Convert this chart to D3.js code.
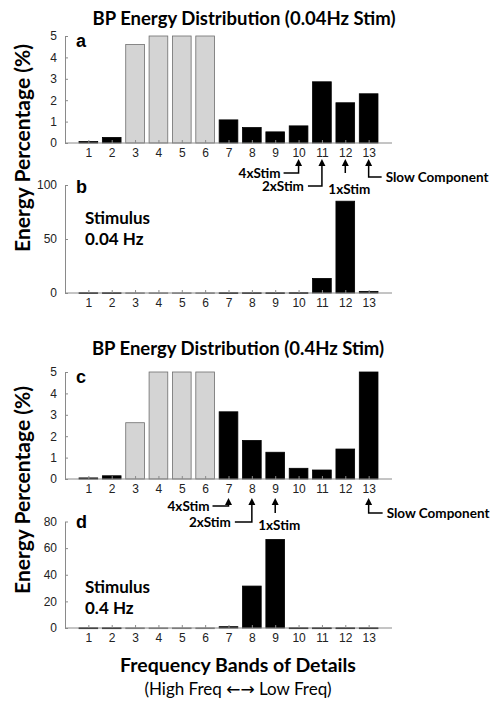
<!DOCTYPE html>
<html><head><meta charset="utf-8">
<script src="https://cdn.jsdelivr.net/npm/d3@7"></script>
<style>
body{margin:0;background:#fff;}
svg{display:block;}
.tick text{font-family:"Liberation Sans",Arial,sans-serif;}
</style></head>
<body>
<svg id="chart" width="502" height="707"></svg>
<script>
// ---------- data ----------
const bands = [1,2,3,4,5,6,7,8,9,10,11,12,13];
const grayBands = [3,4,5,6];
const energyA = [0.07,0.26,4.6,18,38,29,1.08,0.72,0.52,0.8,2.86,1.88,2.3];      // 0.04 Hz BP (clipped at 5)
const energyB = [0.2,0.2,0.2,0.2,0.2,0.2,0.2,0.2,0.2,0.3,13.5,85,1.5];           // 0.04 Hz stimulus
const energyC = [0.05,0.15,2.63,22,35,23,3.14,1.8,1.25,0.5,0.42,1.4,8];          // 0.4 Hz BP (clipped at 5)
const energyD = [0.1,0.1,0.1,0.1,0.1,0.1,1,31.5,66.5,0.1,0.1,0.1,0.1];           // 0.4 Hz stimulus
const ticksA = [0,1,2,3,4,5];
const ticksB = [0,50,100];
const ticksD = [0,20,40,60,80];
const titles = ["BP Energy Distribution (0.04Hz Stim)","BP Energy Distribution (0.4Hz Stim)"];
const annotA = [{label:"4xStim",band:10,type:"left1"},{label:"2xStim",band:11,type:"left2"},{label:"1xStim",band:12,type:"below"},{label:"Slow Component",band:13,type:"right"}];
const annotC = [{label:"4xStim",band:7,type:"left1"},{label:"2xStim",band:8,type:"left2"},{label:"1xStim",band:9,type:"below"},{label:"Slow Component",band:13,type:"right"}];

const svg = d3.select("#chart");
const x = d3.scaleLinear().domain([0,14]).range([65,392]);
const barW = x(0.8)-x(0);
const axisCol = "#8a8a8a";
const cal = 'Lato,"Open Sans",sans-serif';

function panel(values, ticks, yTop, yBottom, letter, letterY){
  const y = d3.scaleLinear().domain([0, d3.max(ticks)]).range([yBottom, yTop]).clamp(true);
  const g = svg.append("g");
  const ya = d3.axisLeft(y).tickValues(ticks).tickFormat(d3.format("d")).tickSizeInner(-3).tickSizeOuter(0).tickPadding(8);
  const yg = g.append("g").attr("transform",`translate(${x(0)},0)`).call(ya);
  yg.select(".domain").attr("stroke",axisCol);
  yg.selectAll(".tick line").attr("stroke",axisCol);
  yg.selectAll(".tick text").attr("font-size",12).attr("fill","#222");
  g.selectAll("rect.bar").data(bands).enter().append("rect")
    .attr("x",d=>x(d)-barW/2)
    .attr("width",barW)
    .attr("y",(d,i)=>y(values[i]))
    .attr("height",(d,i)=>Math.max(0.8,yBottom-y(values[i])))
    .attr("fill",d=>grayBands.includes(d)?"#d4d4d4":"#000")
    .attr("stroke",d=>grayBands.includes(d)?"#6e6e6e":"#000")
    .attr("stroke-width",0.8);
  const xa = d3.axisBottom(x).tickValues(bands).tickFormat(d3.format("d")).tickSizeInner(-3).tickSizeOuter(0).tickPadding(5);
  const xg = g.append("g").attr("transform",`translate(0,${yBottom})`).call(xa);
  xg.select(".domain").attr("stroke",axisCol).attr("d",`M${x(0)},0H${x(14)}`);
  xg.selectAll(".tick line").attr("stroke",axisCol);
  xg.selectAll(".tick text").attr("font-size",12).attr("fill","#222");
  g.append("text").attr("x",76).attr("y",letterY).text(letter)
    .attr("font-family","Liberation Sans,Arial,sans-serif").attr("font-weight","bold").attr("font-size",18);
  return y;
}

function title(t, cx, by){
  svg.append("text").attr("x",cx).attr("y",by).attr("text-anchor","middle")
    .attr("font-family",cal).attr("font-weight","bold").attr("font-size",18.5).text(t);
}

function stimText(lines, y0){
  lines.forEach((l,i)=>svg.append("text").attr("x",85).attr("y",y0+i*21).text(l)
    .attr("font-family",cal).attr("font-weight","bold").attr("font-size",17));
}

function annotations(list, tipY, L){
  const g = svg.append("g");
  list.forEach(a=>{
    const cx = x(a.band);
    let pts, tx, ty, anchor;
    if(a.type==="left1"){ pts=[[cx,tipY+5],[cx,tipY+L.l1],[cx-L.l1w,tipY+L.l1]]; tx=cx-L.l1w-3; ty=tipY+L.l1+5; anchor="end"; }
    if(a.type==="left2"){ pts=[[cx,tipY+5],[cx,tipY+L.l2],[cx-L.l2w,tipY+L.l2]]; tx=cx-L.l2w-4; ty=tipY+L.l2+5; anchor="end"; }
    if(a.type==="below"){ pts=[[cx,tipY+5],[cx,tipY+L.b]]; tx=cx+4; ty=tipY+L.bt; anchor="middle"; }
    if(a.type==="right"){ pts=[[cx,tipY+5],[cx,tipY+L.r],[cx+L.rw,tipY+L.r]]; tx=cx+L.rw+4; ty=tipY+L.r+5; anchor="start"; }
    g.append("path").attr("d",d3.line()(pts)).attr("fill","none").attr("stroke","#000").attr("stroke-width",1.5);
    g.append("path").attr("d",`M${cx},${tipY}L${cx-3.5},${tipY+7}L${cx+3.5},${tipY+7}Z`).attr("fill","#000");
    g.append("text").attr("x",tx).attr("y",ty).attr("text-anchor",anchor).text(a.label)
      .attr("font-family",cal).attr("font-weight","bold").attr("font-size",13.5);
  });
}

title(titles[0], 244, 25);
panel(energyA, ticksA, 36, 143, "a", 47);
annotations(annotA, 159, {l1:14,l1w:15,l2:27,l2w:14,b:14,bt:35,r:18,rw:13});
panel(energyB, ticksB, 185, 293, "b", 193);
stimText(["Stimulus","0.04 Hz"], 224);

title(titles[1], 238, 355);
panel(energyC, ticksA, 372, 479, "c", 383);
annotations(annotC, 498, {l1:8,l1w:16,l2:24,l2w:17,b:15,bt:32,r:15,rw:14});
panel(energyD, ticksD, 521.5, 628, "d", 528);
stimText(["Stimulus","0.4 Hz"], 593);

[148, 490].forEach(cy=>{
  svg.append("text").attr("transform",`translate(30,${cy}) rotate(-90)`).attr("text-anchor","middle")
    .attr("font-family",cal).attr("font-weight","bold").attr("font-size",21).text("Energy Percentage (%)");
});
svg.append("text").attr("x",238).attr("y",672).attr("text-anchor","middle")
  .attr("font-family",cal).attr("font-weight","bold").attr("font-size",19.5).text("Frequency Bands of Details");
const sub = svg.append("text").attr("x",238).attr("y",695).attr("text-anchor","middle")
  .attr("font-family",cal).attr("font-size",17);
sub.append("tspan").text("(High Freq ");
sub.append("tspan").attr("font-family","DejaVu Sans").attr("font-size",17).text("←→");
sub.append("tspan").text(" Low Freq)");
</script>
</body></html>
